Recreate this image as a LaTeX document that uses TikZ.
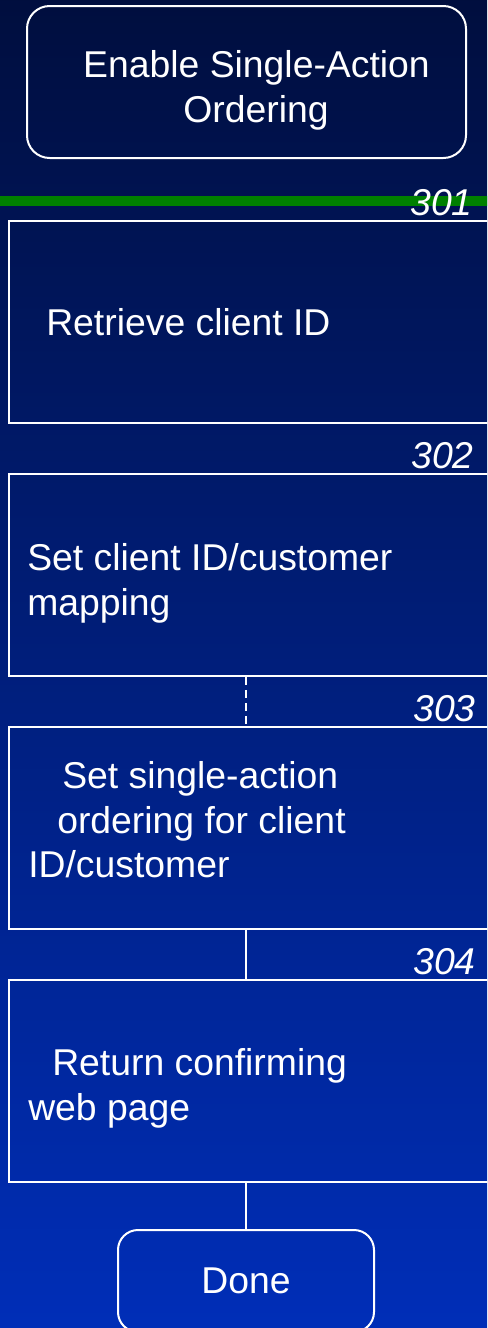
\documentclass[tikz,border=0pt]{standalone}
\usepackage{fontspec}
\setmainfont{Liberation Sans}
\definecolor{topc}{RGB}{0,14,62}
\definecolor{botc}{RGB}{0,46,184}
\definecolor{grn}{RGB}{0,128,0}
\begin{document}
\begin{tikzpicture}[x=0.75pt,y=-0.75pt,
  txt/.style={text=white,font=\fontsize{28}{34}\selectfont,inner sep=0pt},
  num/.style={text=white,font=\fontsize{28}{34}\selectfont\itshape,inner sep=0pt,anchor=base east},
  stepbox/.style={draw=white,line width=1.5pt,minimum width=375pt,minimum height=151.5pt,anchor=north west,inner sep=0pt},
  term/.style={draw=white,line width=1.5pt,inner sep=0pt},
  link/.style={draw=white,line width=1.5pt}]
\useasboundingbox (0,0) rectangle (487,1328);
\clip (0,0) rectangle (487,1328);
\shade[top color=topc,bottom color=botc] (-5,-5) rectangle (492,1333);
% green rule
\draw[grn,line width=7.5pt] (-5,201) -- (492,201);
% start terminal
\node[term,rounded corners=17pt,minimum width=329.25pt,minimum height=114pt] (start) at (246.5,82) {};
\node[txt,anchor=base] (startA) at (256.5,77) {Enable Single-Action};
\node[txt,anchor=base] (startB) at (256,122) {Ordering};
% step boxes
\node[stepbox] (b301) at (8,220) {};
\node[stepbox] (b302) at (8,473) {};
\node[stepbox] (b303) at (8,726) {};
\node[stepbox] (b304) at (8,979) {};
% done terminal
\node[term,rounded corners=15pt,minimum width=192pt,minimum height=76.5pt,txt] (done) at (246,1281) {Done};
% numbers
\node[num] (n301) at (473,215) {301};
\node[num] (n302) at (474,468) {302};
\node[num] (n303) at (476,721) {303};
\node[num] (n304) at (476,974) {304};
% texts
\node[txt,anchor=base west] (t301) at (46,335) {Retrieve client ID};
\node[txt,anchor=base west] (t302a) at (27,570) {Set client ID/customer};
\node[txt,anchor=base west] (t302b) at (27,615) {mapping};
\node[txt,anchor=base west] (t303a) at (62,788) {Set single-action};
\node[txt,anchor=base west] (t303b) at (57,833) {ordering for client};
\node[txt,anchor=base west] (t303c) at (28,877) {ID/customer};
\node[txt,anchor=base west] (t304a) at (52,1075) {Return confirming};
\node[txt,anchor=base west] (t304b) at (28,1120) {web page};
% connectors
\draw[link,dash pattern=on 6pt off 3.75pt] (b302.south -| done.north) -- (b303.north -| done.north);
\draw[link] (b303.south -| done.north) -- (b304.north -| done.north);
\draw[link] (b304.south -| done.north) -- (done.north);
\end{tikzpicture}
\end{document}
